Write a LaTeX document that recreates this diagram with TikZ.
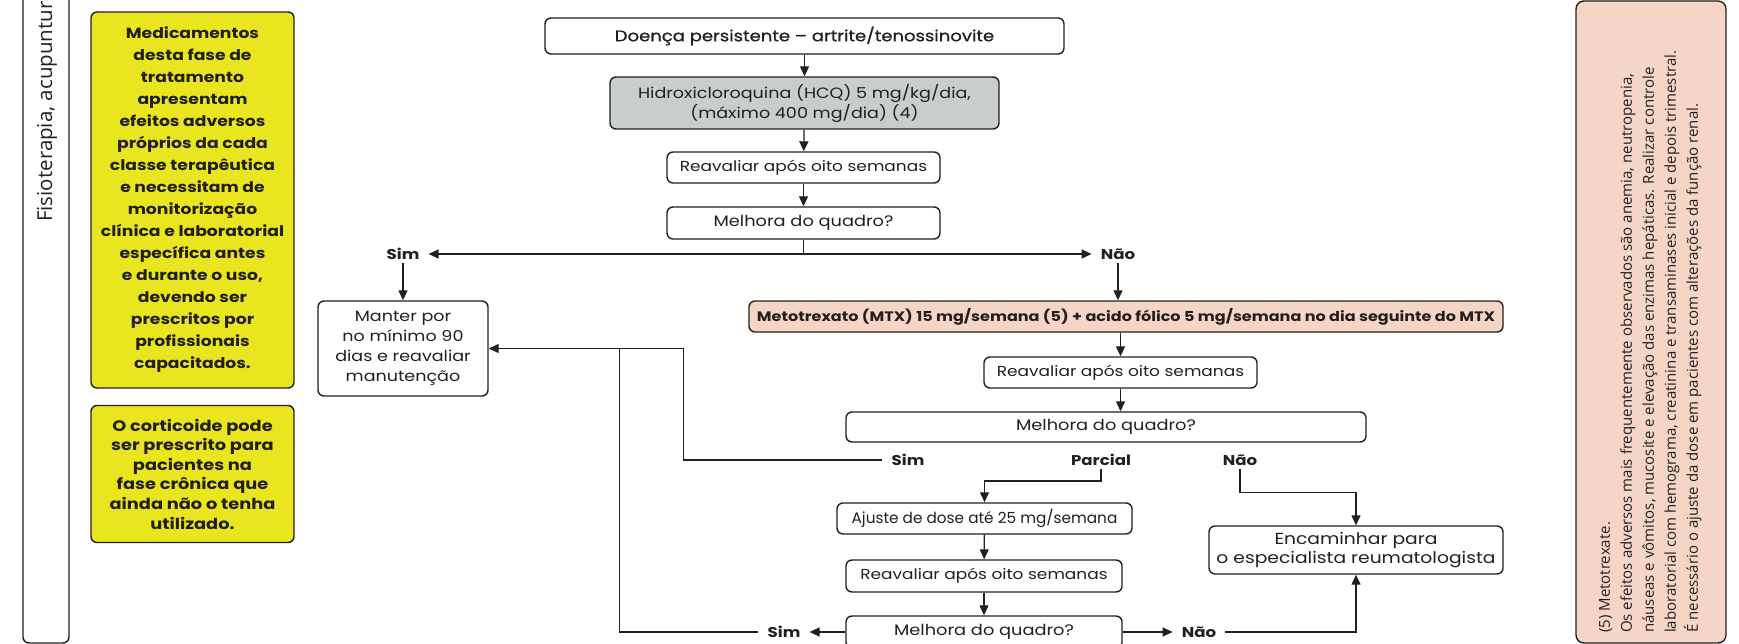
\documentclass[tikz,border=0pt]{standalone}
\usepackage{fontspec}
\setmainfont[FakeStretch=1.17]{Poppins}
\newfontfamily\osans{Open Sans}
\newfontfamily\pmed[FakeBold=0.8,FakeStretch=1.17]{Poppins}
\newfontfamily\pnarrow{Poppins}
\usetikzlibrary{arrows.meta,calc}
\definecolor{ink}{RGB}{35,31,32}
\definecolor{yel}{RGB}{233,229,31}
\definecolor{grayfill}{RGB}{201,205,204}
\definecolor{salmon}{RGB}{245,214,198}
\begin{document}
\begin{tikzpicture}[x=1pt,y=-1pt,
  box/.style={draw=ink, line width=1.4pt, rounded corners=6pt, fill=white, text=ink,
    inner sep=0pt, align=center, font=\fontsize{15}{20}\selectfont},
  ybox/.style={box, fill=yel, font=\bfseries\fontsize{14.7}{22}\selectfont},
  lbl/.style={text=ink, font=\bfseries\fontsize{14.2}{18}\selectfont, inner xsep=9pt, inner ysep=3pt},
  conn/.style={draw=ink, line width=1.3pt},
  tip/.tip={Triangle[length=10pt,width=9pt]},
  arr/.style={conn, -tip},
  reavfont/.style={font=\fontsize{14.5}{20}\selectfont},
]
\useasboundingbox (0,0) rectangle (1739,644);
\clip (0,0) rectangle (1739,644);

% left strip
\draw[ink, line width=1.4pt, rounded corners=6pt] (23,-20) rectangle (69,643);
\node[rotate=90, anchor=west, inner sep=0pt, text=ink, font=\osans\fontsize{20.5}{24}\selectfont] (fisio) at (47,222) {Fisioterapia, acupuntura};

% yellow notes
\node[ybox, minimum width=203, minimum height=376] (med) at (192.5,200) {Medicamentos\\desta fase de\\tratamento\\apresentam\\efeitos adversos\\próprios da cada\\classe terapêutica\\e necessitam de\\monitorização\\clínica e laboratorial\\específica antes\\e durante o uso,\\devendo ser\\prescritos por\\profissionais\\capacitados.};
\node[ybox, font=\bfseries\fontsize{15.2}{19.6}\selectfont, minimum width=203, minimum height=137] (cort) at (192.5,474) {O corticoide pode\\ser prescrito para\\pacientes na\\fase crônica que\\ainda não o tenha\\utilizado.};

% right note
\node[draw=ink, line width=1.4pt, rounded corners=8pt, fill=salmon, minimum width=150, minimum height=642, inner sep=0pt] (notebox) at (1651,322) {};
\node[rotate=90, anchor=north west, inner sep=0pt, align=left, text=ink, font=\osans\fontsize{15}{22}\selectfont] (notetext) at (1599,633) {(5) Metotrexate.\\Os efeitos adversos mais frequentemente observados são anemia, neutropenia,\\náuseas e vômitos, mucosite e elevação das enzimas hepáticas. Realizar controle\\laboratorial com hemograma, creatinina e transaminases inicial e depois trimestral.\\É necessário o ajuste da dose em pacientes com alterações da função renal.};

% main flow
\node[box, font=\pmed\fontsize{15.4}{20}\selectfont, minimum width=519, minimum height=36] (doenca) at (804.5,36) {Doença persistente – artrite/tenossinovite};
\node[box, fill=grayfill, minimum width=389, minimum height=52] (hcq) at (804.5,103) {Hidroxicloroquina (HCQ) 5 mg/kg/dia,\\(máximo 400 mg/dia) (4)};
\node[box, reavfont, minimum width=273, minimum height=31] (reav1) at (803.5,167.5) {Reavaliar após oito semanas};
\node[box, font=\fontsize{15.2}{20}\selectfont, minimum width=273, minimum height=32] (mel1) at (803.5,223) {Melhora do quadro?};

\node[lbl] (sim1) at (403,254) {Sim};
\node[lbl] (nao1) at (1118,254) {Não};

\node[box, minimum width=170, minimum height=95] (manter) at (403,348.5) {Manter por\\no mínimo 90\\dias e reavaliar\\manutenção};

\node[box, fill=salmon, font=\bfseries\fontsize{13.7}{18}\selectfont, minimum width=754, minimum height=31] (mtx) at (1126,316.5) {Metotrexato (MTX) 15 mg/semana (5) + acido fólico 5 mg/semana no dia seguinte do MTX};
\node[box, reavfont, minimum width=273, minimum height=31] (reav2) at (1120.5,372.5) {Reavaliar após oito semanas};
\node[box, font=\fontsize{15.2}{20}\selectfont, minimum width=520, minimum height=30] (mel2) at (1106,427) {Melhora do quadro?};

\node[lbl] (sim2) at (908,460) {Sim};
\node[lbl] (parc) at (1101,460) {Parcial};
\node[lbl] (nao2) at (1240,460) {Não};

\node[box, font=\pnarrow\fontsize{15.3}{20}\selectfont, minimum width=295, minimum height=31] (ajuste) at (984.5,518.5) {Ajuste de dose até 25 mg/semana};
\node[box, reavfont, minimum width=276, minimum height=32] (reav3) at (984,576) {Reavaliar após oito semanas};
\node[box, font=\fontsize{15.2}{20}\selectfont, minimum width=276, minimum height=32] (mel3) at (984,632) {Melhora do quadro?};

\node[box, minimum width=294, minimum height=48, font=\fontsize{16}{18.5}\selectfont] (enc) at (1356,550) {Encaminhar para\\o especialista reumatologista};

\node[lbl] (sim3) at (784,632) {Sim};
\node[lbl] (nao3) at (1199,632) {Não};

% connectors
\draw[arr] (doenca) -- (hcq);
\draw[arr] (hcq) -- (reav1);
\draw[arr] (reav1) -- (mel1);
\coordinate (b1) at (mel1.south |- sim1.east);
\draw[conn] (mel1.south) -- (b1);
\draw[conn, tip-tip] (sim1.east) -- (nao1.west);
\draw[arr] (sim1.south) -- (manter.north);
\draw[arr] (nao1.south) -- (nao1.south |- mtx.north);
\draw[arr] (reav2.north |- mtx.south) -- (reav2.north);
\draw[arr] (reav2.south) -- (reav2.south |- mel2.north);

\coordinate (j1) at ([xshift=195pt]manter.east);
\coordinate (j2) at ([xshift=131pt]manter.east);
\draw[arr] (sim2.west) -| (j1) -- (manter.east);
\draw[arr] (parc.south) -- ++(0,12) -| (ajuste.north);
\draw[arr] (nao2.south) -- ++(0,24) -| (enc.north);

\draw[arr] (ajuste) -- (reav3);
\draw[arr] (reav3) -- (mel3);
\draw[arr] (mel3.west) -- (sim3.east);
\draw[conn] (sim3.west) -| (j2);
\draw[arr] (mel3.east) -- (nao3.west);
\draw[arr] (nao3.east) -| (enc.south);
\end{tikzpicture}
\end{document}
